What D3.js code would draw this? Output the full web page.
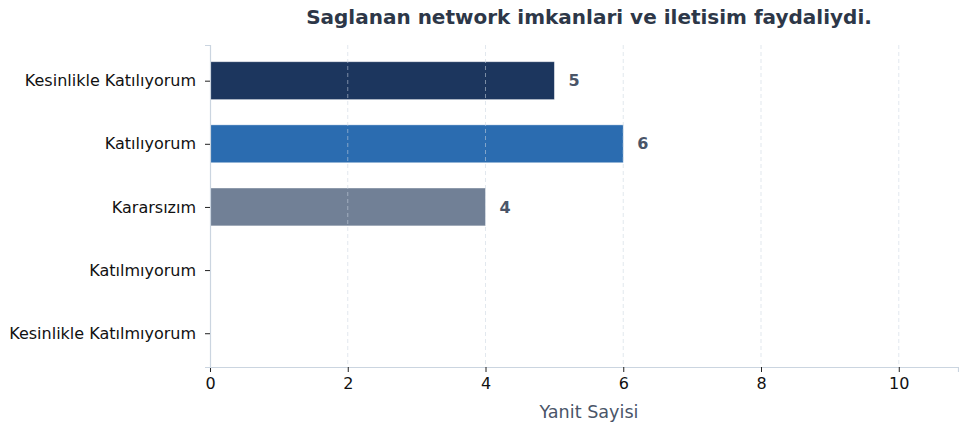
<!DOCTYPE html>
<html>
<head>
<meta charset="utf-8">
<script src="https://cdn.jsdelivr.net/npm/d3@7"></script>
<style>
  body { margin: 0; background: #fff; }
  svg { font-family: "DejaVu Sans", sans-serif; }
</style>
</head>
<body>
<svg class="bar-chart"></svg>
<script>
var categories = ["Kesinlikle Katılıyorum", "Katılıyorum", "Kararsızım", "Katılmıyorum", "Kesinlikle Katılmıyorum"];
var values = [5, 6, 4, 0, 0];
var barColors = ["#1c365e", "#2b6cb0", "#718096", "#a0aec0", "#cbd5e0"];
var xTicks = [0, 2, 4, 6, 8, 10];

var width = 959, height = 426;
var plotLeft = 210, plotRight = 958, plotTop = 45, plotBottom = 367;

var x = d3.scaleLinear()
    .domain([0, 10.86])
    .range([plotLeft, plotRight]);
var y = d3.scaleLinear()
    .domain([-0.565, 4.535])
    .range([plotTop, plotBottom]);
var step = y(1) - y(0);
var barH = step * 0.6;

var svg = d3.select(".bar-chart")
    .attr("width", width)
    .attr("height", height);

// bars
svg.selectAll("rect.bar")
    .data(values)
    .enter().append("rect")
    .attr("class", "bar")
    .attr("x", x(0))
    .attr("y", function(d, i) { return y(i) - barH / 2; })
    .attr("width", function(d) { return x(d) - x(0); })
    .attr("height", barH)
    .attr("fill", function(d, i) { return barColors[i]; })
    .attr("stroke", "#ffffff")
    .attr("stroke-opacity", 0.5)
    .attr("stroke-width", 0.8);

// dashed grid over bars
svg.selectAll("line.grid")
    .data(xTicks.slice(1))
    .enter().append("line")
    .attr("class", "grid")
    .attr("x1", function(d) { return x(d); })
    .attr("x2", function(d) { return x(d); })
    .attr("y1", plotTop)
    .attr("y2", plotBottom)
    .attr("stroke", "#cbd5e0")
    .attr("stroke-opacity", 0.55)
    .attr("stroke-dasharray", "4,3")
    .attr("stroke-width", 1);

// value labels
svg.selectAll("text.val")
    .data(values.filter(function(d) { return d > 0; }))
    .enter().append("text")
    .attr("class", "val")
    .attr("x", function(d) { return x(d) + 14; })
    .attr("y", function(d, i) { return y(i); })
    .attr("dy", "0.35em")
    .attr("font-size", 16)
    .attr("font-weight", "bold")
    .attr("fill", "#4a5568")
    .text(function(d) { return d; });

// x axis
var xAxis = svg.append("g")
    .attr("transform", "translate(0," + plotBottom + ")")
    .call(d3.axisBottom(x).tickValues(xTicks).tickSize(5).tickPadding(6));
xAxis.select(".domain").attr("stroke", "#cbd5e0").attr("stroke-width", 1.2);
xAxis.selectAll(".tick line").attr("stroke", "#222");
xAxis.selectAll(".tick text").attr("font-size", 16).attr("fill", "#111")
    .attr("font-family", "DejaVu Sans");

// y axis
var yAxis = svg.append("g")
    .attr("transform", "translate(" + plotLeft + ",0)")
    .call(d3.axisLeft(y).tickValues(d3.range(categories.length))
        .tickFormat(function(d) { return categories[d]; })
        .tickSize(5).tickPadding(9));
yAxis.select(".domain").attr("stroke", "#cbd5e0").attr("stroke-width", 1.2);
yAxis.selectAll(".tick line").attr("stroke", "#222");
yAxis.selectAll(".tick text").attr("font-size", 16).attr("fill", "#111")
    .attr("font-family", "DejaVu Sans");

// axis label
svg.append("text")
    .attr("x", 589)
    .attr("y", 418)
    .attr("text-anchor", "middle")
    .attr("font-size", 17.6)
    .attr("fill", "#4a5568")
    .text("Yanit Sayisi");

// title
svg.append("text")
    .attr("x", 589)
    .attr("y", 24)
    .attr("text-anchor", "middle")
    .attr("font-size", 20)
    .attr("font-weight", "bold")
    .attr("fill", "#2d3748")
    .text("Saglanan network imkanlari ve iletisim faydaliydi.");
</script>
</body>
</html>
